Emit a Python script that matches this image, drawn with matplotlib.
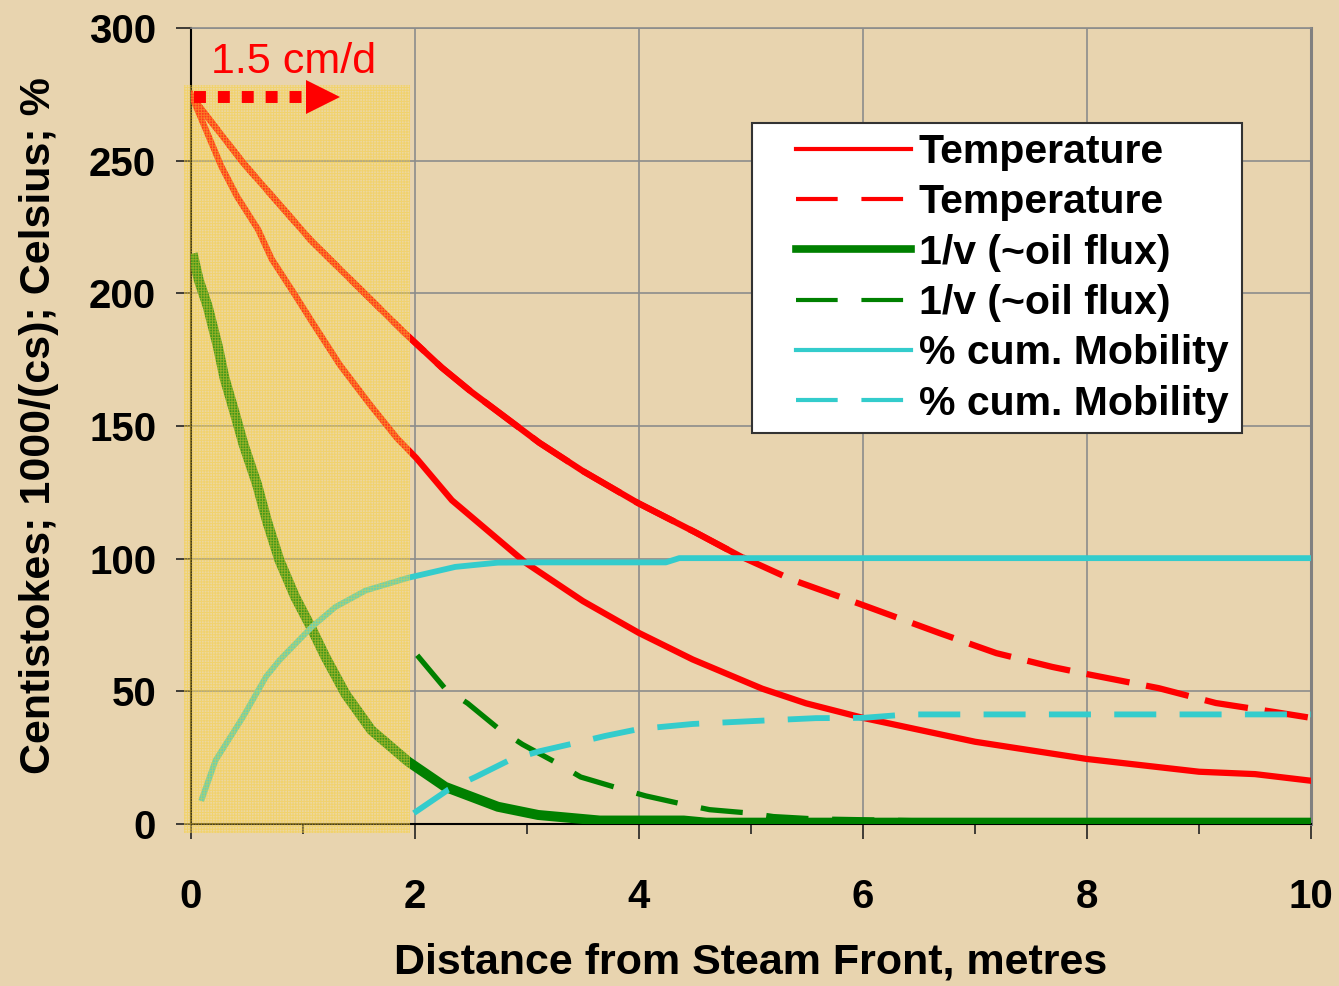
import matplotlib
matplotlib.use("Agg")
import matplotlib.pyplot as plt
from matplotlib.patches import Rectangle
from matplotlib.lines import Line2D
from matplotlib.ticker import MultipleLocator

plt.rcParams['font.family'] = ['Liberation Sans', 'DejaVu Sans']
plt.rcParams['hatch.linewidth'] = 0.7

# ---- data ----
# Temperature, solid (lower profile)
temp_lo_x = [0, 0.06, 0.27, 0.41, 0.6, 0.72, 0.92, 1.1, 1.33, 1.6, 1.84, 2.01, 2.33,
             2.99, 3.5, 4.0, 4.48, 5.1, 5.49, 6.0, 7.0, 8.0, 9.0, 9.5, 10.0]
temp_lo_y = [275, 269, 248, 236.6, 224, 213, 200, 188, 173, 158, 145.4, 138, 122,
             98.4, 84, 72, 62, 51, 45.5, 40, 31, 24.5, 19.7, 18.8, 16.3]
# Temperature, solid part drawn on the upper profile
temp_up_solid_x = [0, 0.47, 0.83, 1.07, 1.42, 1.9, 2.24, 2.5, 3.11, 3.5, 3.99, 4.5, 4.9]
temp_up_solid_y = [274.5, 249, 231.6, 220, 205.4, 185.4, 172, 163, 143.7, 133, 121, 110, 101]
# Temperature, dashed (upper profile)
temp_up_x = [0, 0.47, 0.83, 1.07, 1.42, 1.9, 2.24, 2.5, 3.11, 3.5, 3.99, 4.5, 4.9,
             5.37, 6.0, 6.68, 7.19, 7.69, 8.0, 8.64, 9.15, 9.66, 10.0]
temp_up_y = [274.5, 249, 231.6, 220, 205.4, 185.4, 172, 163, 143.7, 133, 121, 110, 101,
             92, 82.5, 72, 64.4, 59.2, 56.5, 51.2, 45.6, 42.3, 40]

# 1/v (~oil flux), solid
flux_x = [0.015, 0.07, 0.15, 0.24, 0.3, 0.39, 0.47, 0.59, 0.68, 0.79, 0.93, 1.07, 1.2,
          1.38, 1.61, 1.94, 2.27, 2.74, 3.1, 3.65, 4.4, 4.6, 10.0]
flux_y = [215, 205, 195, 180, 168, 155, 143, 128, 114, 99.4, 85.6, 74.3, 63,
          49, 35.4, 23.5, 14, 6.5, 3.4, 1.3, 1.3, 0.5, 0.5]
# 1/v (~oil flux), dashed
flux2_x = [2.02, 2.27, 2.47, 2.75, 2.96, 3.27, 3.48, 3.84, 4.06, 4.4, 4.63, 4.99, 5.2,
           5.58, 6.15, 7.0, 8.0, 10.0]
flux2_y = [63.6, 51, 45.5, 35.8, 30, 22.9, 17.7, 13.2, 10.6, 7.4, 5.4, 4.1, 2.8,
           1.9, 1.5, 0.8, 0.5, 0.5]

# % cum. Mobility, solid
mob_x = [0.1, 0.22, 0.46, 0.67, 0.79, 1.08, 1.29, 1.56, 1.94, 2.36, 2.74, 3.11, 4.24,
         4.36, 10.0]
mob_y = [9.7, 24, 40, 55.5, 61.7, 74.3, 81.8, 88, 92.8, 96.9, 98.5, 98.6, 98.6,
         100.2, 100.2]
# % cum. Mobility, dashed
mob2_x = [1.99, 2.3, 2.54, 2.84, 3.11, 3.44, 3.7, 4.0, 4.48, 5.02, 5.58, 6.0, 6.4, 10.0]
mob2_y = [4.1, 13, 17.7, 24, 27.4, 30.6, 33.2, 35.8, 37.7, 38.8, 39.9, 40, 41.3, 41.3]

x_ticks = [0, 2, 4, 6, 8, 10]
y_ticks = [0, 50, 100, 150, 200, 250, 300]
labels = ['Temperature', 'Temperature', '1/v (~oil flux)', '1/v (~oil flux)',
          '% cum. Mobility', '% cum. Mobility']

# shaded zone and front-speed arrow
zone_x0, zone_x1 = -0.06, 1.955
zone_y0, zone_y1 = -3.4, 278.5
arrow_y = 274
arrow_x0, arrow_x1 = 0.03, 1.0
arrow_head_x = 1.18
speed_text = '1.5 cm/d'

# ---- figure ----
bg = '#E8D4AF'
red = '#FF0000'
green = '#008000'
cyan = '#33CCCC'

fig = plt.figure(figsize=(13.39, 9.86), dpi=100, facecolor=bg)
ax = fig.add_axes([0.1426, 0.1643, 0.8365, 0.8073], facecolor=bg)

ax.plot(temp_up_x, temp_up_y, color=red, lw=4.5, dashes=(7.0, 2.7), zorder=3)
ax.plot(temp_up_solid_x, temp_up_solid_y, color=red, lw=4.5, zorder=3)
ax.plot(temp_lo_x, temp_lo_y, color=red, lw=4.5, zorder=3)
ax.plot(flux2_x, flux2_y, color=green, lw=3.8, dashes=(8.0, 4.5), zorder=3)
ax.plot(flux_x, flux_y, color=green, lw=7.2, solid_capstyle='butt', zorder=3)
ax.plot(mob2_x, mob2_y, color=cyan, lw=4.2, dashes=(7.2, 4.0), zorder=3)
ax.plot(mob_x, mob_y, color=cyan, lw=4.2, zorder=3)

# translucent yellow zone over the curves
ax.add_patch(Rectangle((zone_x0, zone_y0), zone_x1 - zone_x0, zone_y1 - zone_y0,
                       facecolor='#FFE070', alpha=0.25, lw=0, zorder=4, clip_on=False))
ax.add_patch(Rectangle((zone_x0, zone_y0), zone_x1 - zone_x0, zone_y1 - zone_y0,
                       facecolor='none', edgecolor='#F6CC30', hatch='++++++', alpha=0.45,
                       lw=0, zorder=4, clip_on=False))

# arrow
ax.plot([arrow_x0, arrow_x1], [arrow_y, arrow_y], color=red, lw=8.6,
        dashes=(1, 1), solid_capstyle='butt', zorder=6, clip_on=False)
ax.plot([arrow_head_x], [arrow_y], marker='>', ms=25, color=red, mew=0, zorder=6)
ax.text(0.18, 283.2, speed_text, color=red, fontsize=31, va='baseline', ha='left', zorder=6)

ax.set_xlim(0, 10)
ax.set_ylim(0, 300)
ax.set_xticks(x_ticks)
ax.set_yticks(y_ticks)
ax.xaxis.set_minor_locator(MultipleLocator(1))
ax.grid(True, which='major', color='#8C8C8C', lw=1.2, zorder=1)
ax.set_axisbelow(True)

ax.tick_params(axis='both', which='major', direction='out', length=11, width=1.2,
               labelsize=29, color='#222222')
ax.tick_params(axis='x', which='major', pad=28)
ax.tick_params(axis='y', which='major', pad=14)
ax.tick_params(axis='x', which='minor', direction='out', length=7, width=1.2, color='#222222')
for lab in ax.get_xticklabels() + ax.get_yticklabels():
    lab.set_fontweight('bold')

for s in ['left', 'bottom']:
    ax.spines[s].set_color('black')
    ax.spines[s].set_linewidth(1.5)
ax.spines['top'].set_color('#8C8C8C')
ax.spines['top'].set_linewidth(1.2)
ax.spines['right'].set_color('#808080')
ax.spines['right'].set_linewidth(2.2)

ax.set_xlabel('Distance from Steam Front, metres', fontsize=31, fontweight='bold', labelpad=19)
ax.set_ylabel('Centistokes; 1000/(cs); Celsius; %', fontsize=31, fontweight='bold', labelpad=22)

# legend box drawn separately so its padding can match the original
ax.add_patch(Rectangle((0.5009, 0.4912), 0.4375, 0.3895, transform=ax.transAxes,
                       facecolor='white', edgecolor='#333333', lw=1.5, zorder=9))
handles = [
    Line2D([], [], color=red, lw=3),
    Line2D([], [], color=red, lw=3, dashes=(10, 5.7)),
    Line2D([], [], color=green, lw=5.5),
    Line2D([], [], color=green, lw=3, dashes=(10, 5.7)),
    Line2D([], [], color=cyan, lw=3),
    Line2D([], [], color=cyan, lw=3, dashes=(10, 5.7)),
]
leg = ax.legend(handles, labels, loc='upper left', bbox_to_anchor=(0.540, 0.868),
                borderaxespad=0, borderpad=0, frameon=False,
                prop={'weight': 'bold', 'size': 29.5},
                handlelength=2.8, handletextpad=0.2, labelspacing=0.3)
leg.set_zorder(10)

fig.savefig('out.png', dpi=100, facecolor=bg)
